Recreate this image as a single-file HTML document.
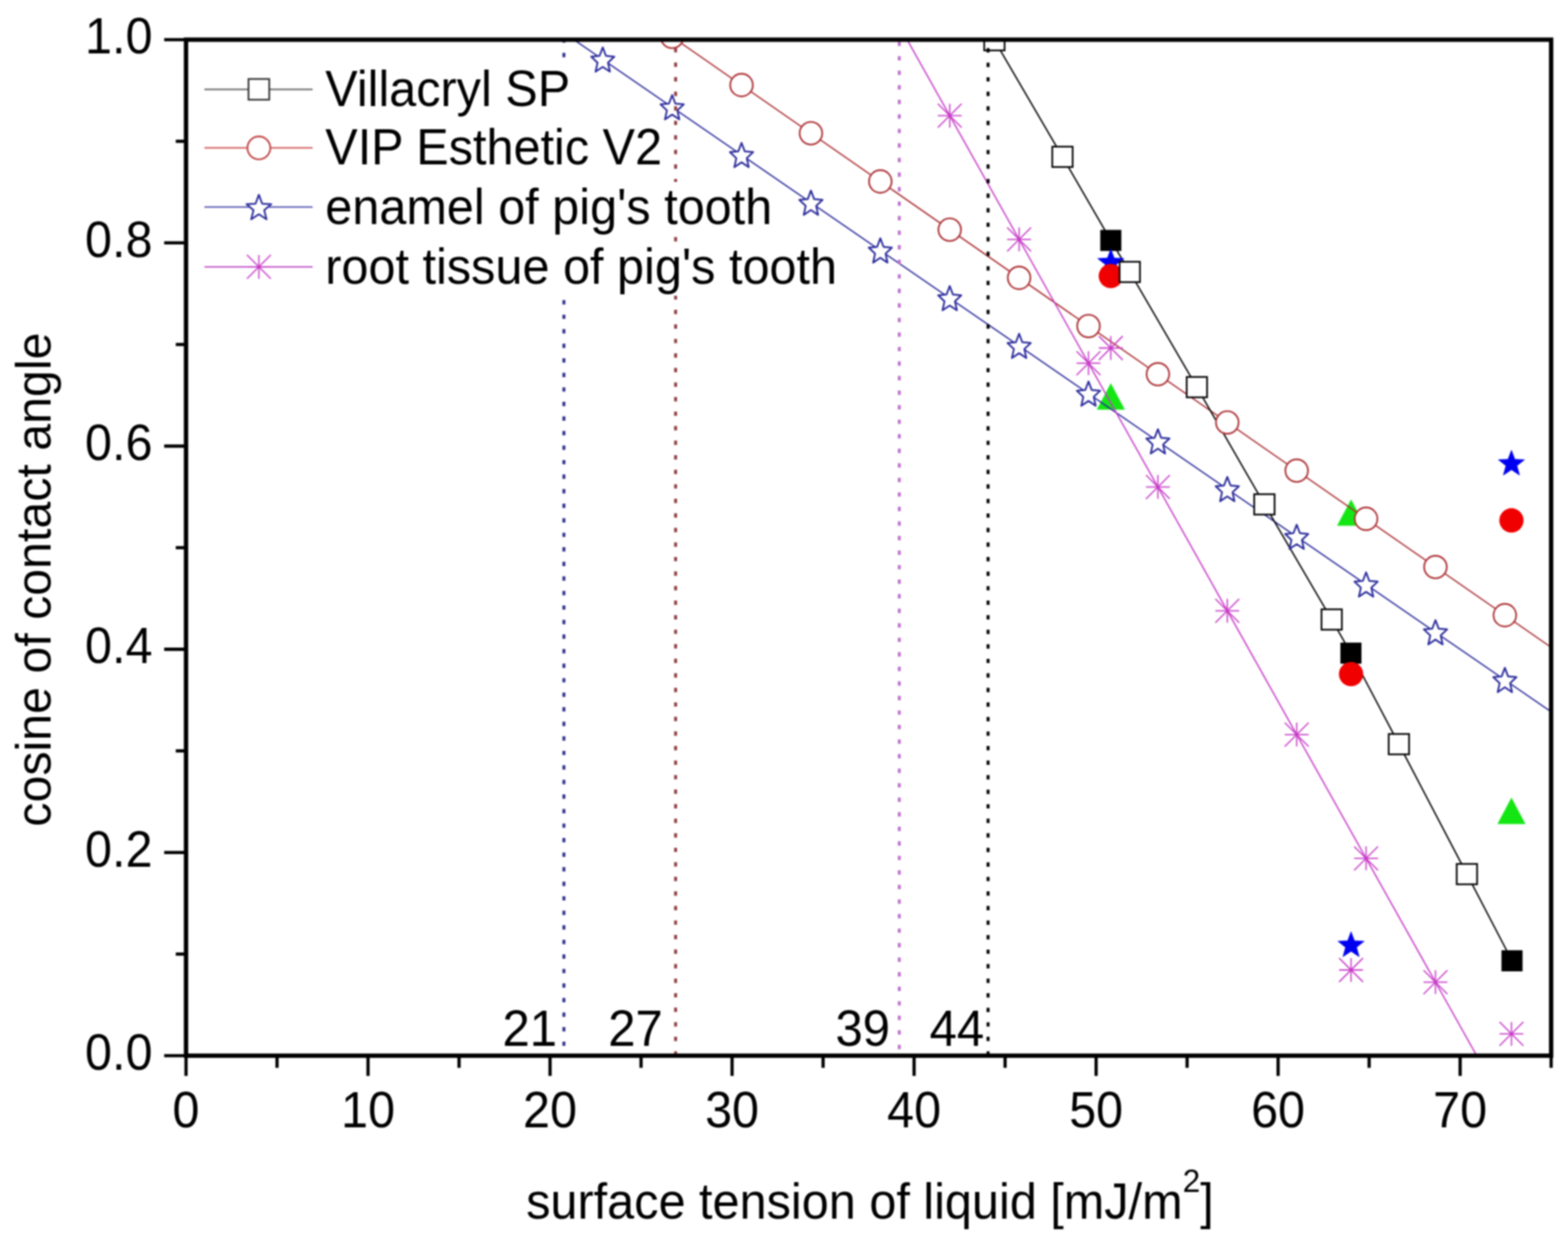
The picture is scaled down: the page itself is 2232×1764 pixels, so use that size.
<!DOCTYPE html>
<html><head><meta charset="utf-8"><title>Zisman plot</title>
<style>html,body{margin:0;padding:0;background:#fff;}svg{display:block;}#w{filter:blur(1px);width:2232px;height:1764px;}</style>
</head><body>
<div id="w">
<svg width="2232" height="1764" viewBox="0 0 2232 1764">
<rect width="2232" height="1764" fill="#fff"/>
<defs><clipPath id="pc"><rect x="264.8" y="56.5" width="1943.2" height="1446.5"/></clipPath></defs>
<g clip-path="url(#pc)">
<polygon points="1581.2,545.5 1561.2,583.3 1601.2,583.3" fill="#14e614"/>
<polygon points="1923.2,711 1903.2,748.5 1943.2,748.5" fill="#14e614"/>
<polygon points="2151.5,1135.5 2131.5,1173.3 2171.5,1173.3" fill="#14e614"/>
<polyline points="759.22,16.81 2240.92,1036.06" fill="none" stroke="#2a2a9c" stroke-width="1.9" stroke-linejoin="round"/>
<polyline points="956.78,52.53 2240.92,944.51" fill="none" stroke="#ad3236" stroke-width="1.9" stroke-linejoin="round"/>
<polyline points="1253.12,-11.6 2142.14,1574.53" fill="none" stroke="#c83cc8" stroke-width="1.9" stroke-linejoin="round"/>
<polyline points="1415.5,57.3 1512.4,223.3 1581.2,342.3 1608.2,387.2 1703.7,551.2 1799.8,718.1 1895.6,882 1923,929.9 1991.3,1059.5 2088.1,1244.5 2152.3,1367.9" fill="none" stroke="#000000" stroke-width="2.0" stroke-linejoin="round"/>
<rect x="1566.2" y="327.3" width="30" height="30" fill="#000000"/>
<rect x="1908" y="914.9" width="30" height="30" fill="#000000"/>
<rect x="2137.3" y="1352.9" width="30" height="30" fill="#000000"/>
<polygon points="1581.2,354.47 1586.04,367.41 1599.84,368.02 1589.03,376.62 1592.72,389.93 1581.2,382.3 1569.68,389.93 1573.37,376.62 1562.56,368.02 1576.36,367.41" fill="#0000f0" stroke="#0000f0" stroke-width="0.8" stroke-linejoin="round"/>
<polygon points="1923.2,1326.57 1928.04,1339.51 1941.84,1340.12 1931.03,1348.72 1934.72,1362.03 1923.2,1354.4 1911.68,1362.03 1915.37,1348.72 1904.56,1340.12 1918.36,1339.51" fill="#0000f0" stroke="#0000f0" stroke-width="0.8" stroke-linejoin="round"/>
<polygon points="2151.5,640.97 2156.34,653.91 2170.14,654.52 2159.33,663.12 2163.02,676.43 2151.5,668.8 2139.98,676.43 2143.67,663.12 2132.86,654.52 2146.66,653.91" fill="#0000f0" stroke="#0000f0" stroke-width="0.8" stroke-linejoin="round"/>
<circle cx="1581.2" cy="393" r="17.3" fill="#f00000"/>
<circle cx="1923.2" cy="959.7" r="17.3" fill="#f00000"/>
<circle cx="2151.5" cy="740.9" r="17.3" fill="#f00000"/>
<path d="M1564.2 495.5H1598.2 M1581.2 478.5V512.5 M1564.2 478.5L1598.2 512.5 M1564.2 512.5L1598.2 478.5" stroke="#c83cc8" stroke-width="1.8" fill="none"/>
<path d="M1906.2 1381H1940.2 M1923.2 1364V1398 M1906.2 1364L1940.2 1398 M1906.2 1398L1940.2 1364" stroke="#c83cc8" stroke-width="1.8" fill="none"/>
<path d="M2134.5 1471.9H2168.5 M2151.5 1454.9V1488.9 M2134.5 1454.9L2168.5 1488.9 M2134.5 1488.9L2168.5 1454.9" stroke="#c83cc8" stroke-width="1.8" fill="none"/>
<circle cx="956.78" cy="52.53" r="16.1" fill="#fff" stroke="#ad3236" stroke-width="2.4"/>
<circle cx="1055.56" cy="121.14" r="16.1" fill="#fff" stroke="#ad3236" stroke-width="2.4"/>
<circle cx="1154.34" cy="189.76" r="16.1" fill="#fff" stroke="#ad3236" stroke-width="2.4"/>
<circle cx="1253.12" cy="258.37" r="16.1" fill="#fff" stroke="#ad3236" stroke-width="2.4"/>
<circle cx="1351.9" cy="326.98" r="16.1" fill="#fff" stroke="#ad3236" stroke-width="2.4"/>
<circle cx="1450.68" cy="395.6" r="16.1" fill="#fff" stroke="#ad3236" stroke-width="2.4"/>
<circle cx="1549.46" cy="464.21" r="16.1" fill="#fff" stroke="#ad3236" stroke-width="2.4"/>
<circle cx="1648.24" cy="532.82" r="16.1" fill="#fff" stroke="#ad3236" stroke-width="2.4"/>
<circle cx="1747.02" cy="601.44" r="16.1" fill="#fff" stroke="#ad3236" stroke-width="2.4"/>
<circle cx="1845.8" cy="670.05" r="16.1" fill="#fff" stroke="#ad3236" stroke-width="2.4"/>
<circle cx="1944.58" cy="738.66" r="16.1" fill="#fff" stroke="#ad3236" stroke-width="2.4"/>
<circle cx="2043.36" cy="807.28" r="16.1" fill="#fff" stroke="#ad3236" stroke-width="2.4"/>
<circle cx="2142.14" cy="875.89" r="16.1" fill="#fff" stroke="#ad3236" stroke-width="2.4"/>
<polygon points="858,67.45 862.6,79.62 874.55,80.67 865.45,89.25 868.23,102.07 858,95.2 847.77,102.07 850.55,89.25 841.45,80.67 853.4,79.62" fill="#fff" stroke="#2a2a9c" stroke-width="2.5" stroke-linejoin="round"/>
<polygon points="956.78,135.4 961.38,147.57 973.33,148.62 964.23,157.2 967.01,170.02 956.78,163.15 946.55,170.02 949.33,157.2 940.23,148.62 952.18,147.57" fill="#fff" stroke="#2a2a9c" stroke-width="2.5" stroke-linejoin="round"/>
<polygon points="1055.56,203.35 1060.16,215.52 1072.11,216.57 1063.01,225.15 1065.79,237.97 1055.56,231.1 1045.33,237.97 1048.11,225.15 1039.01,216.57 1050.96,215.52" fill="#fff" stroke="#2a2a9c" stroke-width="2.5" stroke-linejoin="round"/>
<polygon points="1154.34,271.3 1158.94,283.47 1170.89,284.52 1161.79,293.1 1164.57,305.92 1154.34,299.05 1144.11,305.92 1146.89,293.1 1137.79,284.52 1149.74,283.47" fill="#fff" stroke="#2a2a9c" stroke-width="2.5" stroke-linejoin="round"/>
<polygon points="1253.12,339.25 1257.72,351.42 1269.67,352.47 1260.57,361.05 1263.35,373.87 1253.12,367 1242.89,373.87 1245.67,361.05 1236.57,352.47 1248.52,351.42" fill="#fff" stroke="#2a2a9c" stroke-width="2.5" stroke-linejoin="round"/>
<polygon points="1351.9,407.2 1356.5,419.37 1368.45,420.42 1359.35,429 1362.13,441.82 1351.9,434.95 1341.67,441.82 1344.45,429 1335.35,420.42 1347.3,419.37" fill="#fff" stroke="#2a2a9c" stroke-width="2.5" stroke-linejoin="round"/>
<polygon points="1450.68,475.15 1455.28,487.32 1467.23,488.37 1458.13,496.95 1460.91,509.77 1450.68,502.9 1440.45,509.77 1443.23,496.95 1434.13,488.37 1446.08,487.32" fill="#fff" stroke="#2a2a9c" stroke-width="2.5" stroke-linejoin="round"/>
<polygon points="1549.46,543.1 1554.06,555.27 1566.01,556.32 1556.91,564.9 1559.69,577.72 1549.46,570.85 1539.23,577.72 1542.01,564.9 1532.91,556.32 1544.86,555.27" fill="#fff" stroke="#2a2a9c" stroke-width="2.5" stroke-linejoin="round"/>
<polygon points="1648.24,611.05 1652.84,623.22 1664.79,624.27 1655.69,632.85 1658.47,645.67 1648.24,638.8 1638.01,645.67 1640.79,632.85 1631.69,624.27 1643.64,623.22" fill="#fff" stroke="#2a2a9c" stroke-width="2.5" stroke-linejoin="round"/>
<polygon points="1747.02,679 1751.62,691.17 1763.57,692.22 1754.47,700.8 1757.25,713.62 1747.02,706.75 1736.79,713.62 1739.57,700.8 1730.47,692.22 1742.42,691.17" fill="#fff" stroke="#2a2a9c" stroke-width="2.5" stroke-linejoin="round"/>
<polygon points="1845.8,746.95 1850.4,759.12 1862.35,760.17 1853.25,768.75 1856.03,781.57 1845.8,774.7 1835.57,781.57 1838.35,768.75 1829.25,760.17 1841.2,759.12" fill="#fff" stroke="#2a2a9c" stroke-width="2.5" stroke-linejoin="round"/>
<polygon points="1944.58,814.9 1949.18,827.07 1961.13,828.12 1952.03,836.7 1954.81,849.52 1944.58,842.65 1934.35,849.52 1937.13,836.7 1928.03,828.12 1939.98,827.07" fill="#fff" stroke="#2a2a9c" stroke-width="2.5" stroke-linejoin="round"/>
<polygon points="2043.36,882.84 2047.96,895.02 2059.91,896.07 2050.81,904.65 2053.59,917.47 2043.36,910.6 2033.13,917.47 2035.91,904.65 2026.81,896.07 2038.76,895.02" fill="#fff" stroke="#2a2a9c" stroke-width="2.5" stroke-linejoin="round"/>
<polygon points="2142.14,950.79 2146.74,962.97 2158.69,964.02 2149.59,972.6 2152.37,985.42 2142.14,978.55 2131.91,985.42 2134.69,972.6 2125.59,964.02 2137.54,962.97" fill="#fff" stroke="#2a2a9c" stroke-width="2.5" stroke-linejoin="round"/>
<path d="M1334.9 164.64H1368.9 M1351.9 147.64V181.64 M1334.9 147.64L1368.9 181.64 M1334.9 181.64L1368.9 147.64" stroke="#c83cc8" stroke-width="1.8" fill="none"/>
<path d="M1433.68 340.87H1467.68 M1450.68 323.87V357.87 M1433.68 323.87L1467.68 357.87 M1433.68 357.87L1467.68 323.87" stroke="#c83cc8" stroke-width="1.8" fill="none"/>
<path d="M1532.46 517.11H1566.46 M1549.46 500.11V534.11 M1532.46 500.11L1566.46 534.11 M1532.46 534.11L1566.46 500.11" stroke="#c83cc8" stroke-width="1.8" fill="none"/>
<path d="M1631.24 693.34H1665.24 M1648.24 676.34V710.34 M1631.24 676.34L1665.24 710.34 M1631.24 710.34L1665.24 676.34" stroke="#c83cc8" stroke-width="1.8" fill="none"/>
<path d="M1730.02 869.58H1764.02 M1747.02 852.58V886.58 M1730.02 852.58L1764.02 886.58 M1730.02 886.58L1764.02 852.58" stroke="#c83cc8" stroke-width="1.8" fill="none"/>
<path d="M1828.8 1045.82H1862.8 M1845.8 1028.82V1062.82 M1828.8 1028.82L1862.8 1062.82 M1828.8 1062.82L1862.8 1028.82" stroke="#c83cc8" stroke-width="1.8" fill="none"/>
<path d="M1927.58 1222.05H1961.58 M1944.58 1205.05V1239.05 M1927.58 1205.05L1961.58 1239.05 M1927.58 1239.05L1961.58 1205.05" stroke="#c83cc8" stroke-width="1.8" fill="none"/>
<path d="M2026.36 1398.29H2060.36 M2043.36 1381.29V1415.29 M2026.36 1381.29L2060.36 1415.29 M2026.36 1415.29L2060.36 1381.29" stroke="#c83cc8" stroke-width="1.8" fill="none"/>
<rect x="1401" y="42.8" width="29" height="29" fill="#fff" stroke="#000000" stroke-width="2.4"/>
<rect x="1497.9" y="208.8" width="29" height="29" fill="#fff" stroke="#000000" stroke-width="2.4"/>
<rect x="1593.7" y="372.7" width="29" height="29" fill="#fff" stroke="#000000" stroke-width="2.4"/>
<rect x="1689.2" y="536.7" width="29" height="29" fill="#fff" stroke="#000000" stroke-width="2.4"/>
<rect x="1785.3" y="703.6" width="29" height="29" fill="#fff" stroke="#000000" stroke-width="2.4"/>
<rect x="1881.1" y="867.5" width="29" height="29" fill="#fff" stroke="#000000" stroke-width="2.4"/>
<rect x="1976.8" y="1045" width="29" height="29" fill="#fff" stroke="#000000" stroke-width="2.4"/>
<rect x="2073.6" y="1230" width="29" height="29" fill="#fff" stroke="#000000" stroke-width="2.4"/>
</g>
<line x1="802.7" y1="56.5" x2="802.7" y2="1503" stroke="#30308e" stroke-width="4.2" stroke-dasharray="6.2 14.5" stroke-dashoffset="1.9"/>
<line x1="961.7" y1="56.5" x2="961.7" y2="1503" stroke="#923c3e" stroke-width="4.2" stroke-dasharray="6.2 14.5" stroke-dashoffset="8.8"/>
<line x1="1280.1" y1="56.5" x2="1280.1" y2="1503" stroke="#c070d0" stroke-width="4.2" stroke-dasharray="6.2 14.5" stroke-dashoffset="18"/>
<line x1="1406.5" y1="56.5" x2="1406.5" y2="1503" stroke="#000" stroke-width="4.2" stroke-dasharray="6.2 14.5" stroke-dashoffset="8.7"/>
<g stroke="#000" stroke-linecap="square" fill="none">
<rect x="264.8" y="56.5" width="1943.2" height="1446.5" stroke-width="6.2" stroke-linejoin="miter"/>
<line x1="236" y1="1503" x2="264.8" y2="1503" stroke-width="4.6"/>
<line x1="252.5" y1="1358.35" x2="264.8" y2="1358.35" stroke-width="4.6"/>
<line x1="236" y1="1213.7" x2="264.8" y2="1213.7" stroke-width="4.6"/>
<line x1="252.5" y1="1069.05" x2="264.8" y2="1069.05" stroke-width="4.6"/>
<line x1="236" y1="924.4" x2="264.8" y2="924.4" stroke-width="4.6"/>
<line x1="252.5" y1="779.75" x2="264.8" y2="779.75" stroke-width="4.6"/>
<line x1="236" y1="635.1" x2="264.8" y2="635.1" stroke-width="4.6"/>
<line x1="252.5" y1="490.45" x2="264.8" y2="490.45" stroke-width="4.6"/>
<line x1="236" y1="345.8" x2="264.8" y2="345.8" stroke-width="4.6"/>
<line x1="252.5" y1="201.15" x2="264.8" y2="201.15" stroke-width="4.6"/>
<line x1="236" y1="56.5" x2="264.8" y2="56.5" stroke-width="4.6"/>
<line x1="264.8" y1="1503" x2="264.8" y2="1529.5" stroke-width="4.6"/>
<line x1="394.35" y1="1503" x2="394.35" y2="1518" stroke-width="4.6"/>
<line x1="523.89" y1="1503" x2="523.89" y2="1529.5" stroke-width="4.6"/>
<line x1="653.44" y1="1503" x2="653.44" y2="1518" stroke-width="4.6"/>
<line x1="782.99" y1="1503" x2="782.99" y2="1529.5" stroke-width="4.6"/>
<line x1="912.53" y1="1503" x2="912.53" y2="1518" stroke-width="4.6"/>
<line x1="1042.08" y1="1503" x2="1042.08" y2="1529.5" stroke-width="4.6"/>
<line x1="1171.63" y1="1503" x2="1171.63" y2="1518" stroke-width="4.6"/>
<line x1="1301.17" y1="1503" x2="1301.17" y2="1529.5" stroke-width="4.6"/>
<line x1="1430.72" y1="1503" x2="1430.72" y2="1518" stroke-width="4.6"/>
<line x1="1560.27" y1="1503" x2="1560.27" y2="1529.5" stroke-width="4.6"/>
<line x1="1689.81" y1="1503" x2="1689.81" y2="1518" stroke-width="4.6"/>
<line x1="1819.36" y1="1503" x2="1819.36" y2="1529.5" stroke-width="4.6"/>
<line x1="1948.91" y1="1503" x2="1948.91" y2="1518" stroke-width="4.6"/>
<line x1="2078.45" y1="1503" x2="2078.45" y2="1529.5" stroke-width="4.6"/>
<line x1="2208" y1="1503" x2="2208" y2="1518" stroke-width="4.6"/>
</g>
<g font-family="'Liberation Sans', Arial, Helvetica, sans-serif" font-size="69" fill="#000">
<text transform="translate(217,1522.8) scale(1,1.035)" text-anchor="end">0.0</text>
<text transform="translate(217,1233.5) scale(1,1.035)" text-anchor="end">0.2</text>
<text transform="translate(217,944.2) scale(1,1.035)" text-anchor="end">0.4</text>
<text transform="translate(217,654.9) scale(1,1.035)" text-anchor="end">0.6</text>
<text transform="translate(217,365.6) scale(1,1.035)" text-anchor="end">0.8</text>
<text transform="translate(217,76.3) scale(1,1.035)" text-anchor="end">1.0</text>
<text transform="translate(264.8,1605) scale(1,1.035)" text-anchor="middle">0</text>
<text transform="translate(523.89,1605) scale(1,1.035)" text-anchor="middle">10</text>
<text transform="translate(782.99,1605) scale(1,1.035)" text-anchor="middle">20</text>
<text transform="translate(1042.08,1605) scale(1,1.035)" text-anchor="middle">30</text>
<text transform="translate(1301.17,1605) scale(1,1.035)" text-anchor="middle">40</text>
<text transform="translate(1560.27,1605) scale(1,1.035)" text-anchor="middle">50</text>
<text transform="translate(1819.36,1605) scale(1,1.035)" text-anchor="middle">60</text>
<text transform="translate(2078.45,1605) scale(1,1.035)" text-anchor="middle">70</text>
</g>
<g font-family="'Liberation Sans', Arial, Helvetica, sans-serif" font-size="70" fill="#000" text-anchor="end">
<text transform="translate(793,1489) scale(1,1.035)">21</text>
<text transform="translate(943.5,1489) scale(1,1.035)">27</text>
<text transform="translate(1267,1489) scale(1,1.035)">39</text>
<text transform="translate(1401,1489) scale(1,1.035)">44</text>
</g>
<text font-family="'Liberation Sans', Arial, Helvetica, sans-serif" font-size="69.2" transform="translate(749,1735) scale(1,1.035)">surface tension of liquid [mJ/m<tspan font-size="45" dy="-37">2</tspan><tspan dy="37">]</tspan></text>
<text font-family="'Liberation Sans', Arial, Helvetica, sans-serif" font-size="68.8" transform="translate(71.5,1177) rotate(-90) scale(1,1.035)">cosine of contact angle</text>
<rect x="462" y="90.6" width="346" height="77" fill="#fff"/>
<rect x="462" y="174.1" width="478" height="77" fill="#fff"/>
<rect x="462" y="259" width="632" height="77" fill="#fff"/>
<rect x="462" y="344" width="722" height="77" fill="#fff"/>
<line x1="291" y1="127.2" x2="445" y2="127.2" stroke="#7a7a7a" stroke-width="2.6"/>
<rect x="353.75" y="112.45" width="29.5" height="29.5" fill="#fff" stroke="#303030" stroke-width="2.4"/>
<line x1="291" y1="210.6" x2="445" y2="210.6" stroke="#d05050" stroke-width="2"/>
<circle cx="368.5" cy="210.6" r="16.3" fill="#fff" stroke="#c04040" stroke-width="2.4"/>
<line x1="291" y1="294.8" x2="445" y2="294.8" stroke="#5050b0" stroke-width="2"/>
<polygon points="368.5,277.3 373.2,289.92 386.19,290.67 376.11,299.22 379.43,312.3 368.5,304.97 357.57,312.3 360.89,299.22 350.81,290.67 363.8,289.92" fill="#fff" stroke="#2a2a9c" stroke-width="2.5" stroke-linejoin="round"/>
<line x1="291" y1="379.9" x2="445" y2="379.9" stroke="#c050c8" stroke-width="2"/>
<path d="M351.5 379.9H385.5 M368.5 362.9V396.9 M351.5 362.9L385.5 396.9 M351.5 396.9L385.5 362.9" stroke="#c83cc8" stroke-width="1.8" fill="none"/>
<g font-family="'Liberation Sans', Arial, Helvetica, sans-serif" font-size="69.2" fill="#000">
<text transform="translate(463,150.6) scale(1,1.035)">Villacryl SP</text>
<text transform="translate(463,234.1) scale(1,1.035)">VIP Esthetic V2</text>
<text transform="translate(463,319) scale(1,1.035)">enamel of pig's tooth</text>
<text transform="translate(463,404) scale(1,1.035)">root tissue of pig's tooth</text>
</g>
</svg>
</div>
</body></html>
